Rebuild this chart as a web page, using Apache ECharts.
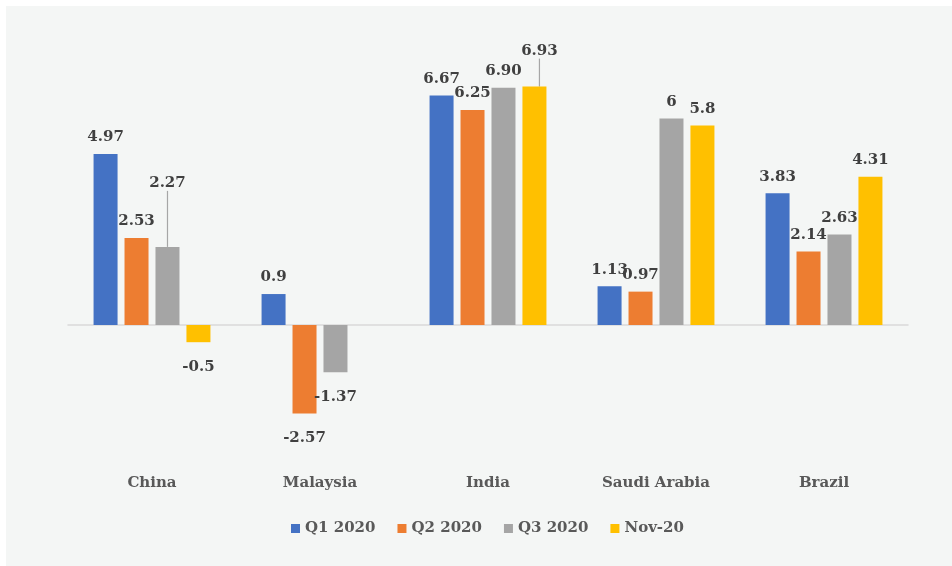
<!DOCTYPE html>
<html>
<head>
<meta charset="utf-8">
<script src="https://cdn.jsdelivr.net/npm/echarts@6/dist/echarts.min.js"></script>
<style>
  html, body { margin: 0; padding: 0; background: #fff; overflow: hidden; }
  #chart { position: absolute; left: 6px; top: 6px; width: 946px; height: 560px; background: #f4f6f5; }
</style>
</head>
<body>
<div id="chart"></div>
<script>
// data
const categories = ['China', 'Malaysia', 'India', 'Saudi Arabia', 'Brazil']
const seriesNames = ['Q1 2020', 'Q2 2020', 'Q3 2020', 'Nov-20']
const q1Values = [4.97, 0.9, 6.67, 1.13, 3.83]
const q2Values = [2.53, -2.57, 6.25, 0.97, 2.14]
const q3Values = [2.27, -1.37, 6.90, 6, 2.63]
const novValues = [-0.5, null, 6.93, 5.8, 4.31]
const q1Labels = ['4.97', '0.9', '6.67', '1.13', '3.83']
const q2Labels = ['2.53', '-2.57', '6.25', '0.97', '2.14']
const q3Labels = ['2.27', '-1.37', '6.90', '6', '2.63']
const novLabels = ['-0.5', '', '6.93', '5.8', '4.31']
const colors = ['#4472C4', '#ED7D31', '#A5A5A5', '#FFC000']

const FONT = 'DejaVu Serif'

// labels that were pulled away from their bar (with a leader line)
const moved = {
  '2-0': { dx: 0, dy: -47 },
  '3-2': { dx: 5, dy: -19 }
}

const makeData = (values, labels, si) => values.map((v, i) => {
  if (v === null) return null
  const item = {
    value: v,
    label: {
      position: v < 0 ? 'bottom' : 'top',
      distance: v < 0 ? 17 : 9,
      formatter: labels[i]
    }
  }
  if (moved[si + '-' + i]) {
    item.labelLine = { show: true, lineStyle: { color: '#a6a6a6', width: 1.2 } }
  }
  return item
})

const allValues = [q1Values, q2Values, q3Values, novValues]
const allLabels = [q1Labels, q2Labels, q3Labels, novLabels]

const series = seriesNames.map((name, si) => ({
  name,
  type: 'bar',
  xAxisIndex: 0,
  barWidth: 24,
  barGap: '29%',
  itemStyle: { color: colors[si] },
  label: {
    show: true,
    color: '#404040',
    fontFamily: FONT,
    fontWeight: 'bold',
    fontSize: 15
  },
  labelLayout: (params) => {
    const m = moved[si + '-' + params.dataIndex]
    return m ? { dx: m.dx, dy: m.dy } : {}
  },
  emphasis: { disabled: true },
  data: makeData(allValues[si], allLabels[si], si)
}))

const chart = echarts.init(document.getElementById('chart'))
chart.setOption({
  animation: false,
  color: colors,
  grid: { left: 62, width: 840, top: 43.8, bottom: 103.4, containLabel: false },
  legend: {
    top: 510,
    left: 280,
    itemWidth: 9,
    itemHeight: 9,
    itemGap: 22,
    icon: 'rect',
    textStyle: { color: '#595959', fontFamily: FONT, fontWeight: 'bold', fontSize: 15 },
    data: seriesNames
  },
  xAxis: [
    {
      type: 'category',
      data: categories,
      axisLine: { onZero: true, lineStyle: { color: '#d9d9d9', width: 1.5 } },
      axisTick: { show: false },
      axisLabel: { show: false }
    },
    {
      type: 'category',
      data: categories,
      position: 'bottom',
      axisLine: { show: false, onZero: false },
      axisTick: { show: false },
      axisLabel: {
        margin: 13,
        color: '#595959',
        fontFamily: FONT,
        fontWeight: 'bold',
        fontSize: 15
      }
    }
  ],
  yAxis: {
    type: 'value',
    min: -4,
    max: 8,
    show: false,
    splitLine: { show: false }
  },
  series
})
</script>
</body>
</html>
